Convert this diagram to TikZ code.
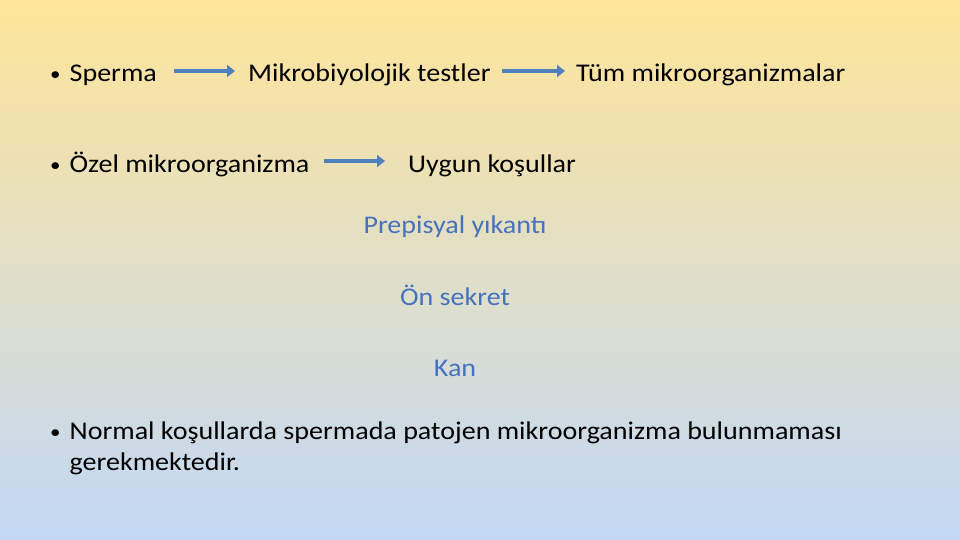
\documentclass[tikz,border=0pt]{standalone}
\usepackage{fontspec}
\setmainfont{Carlito}[FakeStretch=1.1]
\usetikzlibrary{arrows.meta, positioning}
\definecolor{slideyellow}{RGB}{255,229,153}
\definecolor{slideblue}{RGB}{194,216,246}
\definecolor{arrowblue}{RGB}{79,129,189}
\definecolor{textblue}{RGB}{70,114,190}
\newcommand{\slidebullet}{\raisebox{1pt}{\scalebox{0.75}{\textbullet}}\hspace{9pt}}
\tikzstyle{item} = [anchor=base west, inner sep=0pt, text height=22pt, text depth=0pt, font=\fontsize{25.5}{31}\selectfont, align=left]
\tikzstyle{sample} = [anchor=base, inner sep=0pt, font=\fontsize{25.5}{31}\selectfont, text=textblue]
\tikzstyle{arrow} = [line width=4pt, draw=arrowblue, -{Triangle[length=8pt,width=12pt]}]

\begin{document}
\begin{tikzpicture}[x=1pt, y=-1pt]
\useasboundingbox (0,0) rectangle (960,540);
\shade[top color=slideyellow, bottom color=slideblue] (0,0) rectangle (960,540);

\node (sperma) [item] at (50,82) {\slidebullet Sperma};
\node (mikro) [item] at (248,82) {Mikrobiyolojik testler};
\node (tum) [item] at (576,82) {Tüm mikroorganizmalar};

\node (ozel) [item] at (50,172) {\slidebullet Özel mikroorganizma};
\node (uygun) [item] at (408,172) {Uygun koşullar};

\node (prepisyal) [sample] at (455,233) {Prepisyal yıkantı};
\node (onsekret) [sample] at (455,305) {Ön sekret};
\node (kan) [sample] at (455,376) {Kan};

\node (normal) [item] at (50,470) {\slidebullet Normal koşullarda spermada patojen mikroorganizma bulunmaması\\
\phantom{\slidebullet}gerekmektedir.};

\draw [arrow, shorten <=17pt, shorten >=13pt] (sperma) -- (mikro);
\draw [arrow, shorten <=11pt, shorten >=11pt] (mikro) -- (tum);
\draw [arrow, shorten <=14pt, shorten >=23pt] (ozel) -- (uygun);

\end{tikzpicture}
\end{document}
